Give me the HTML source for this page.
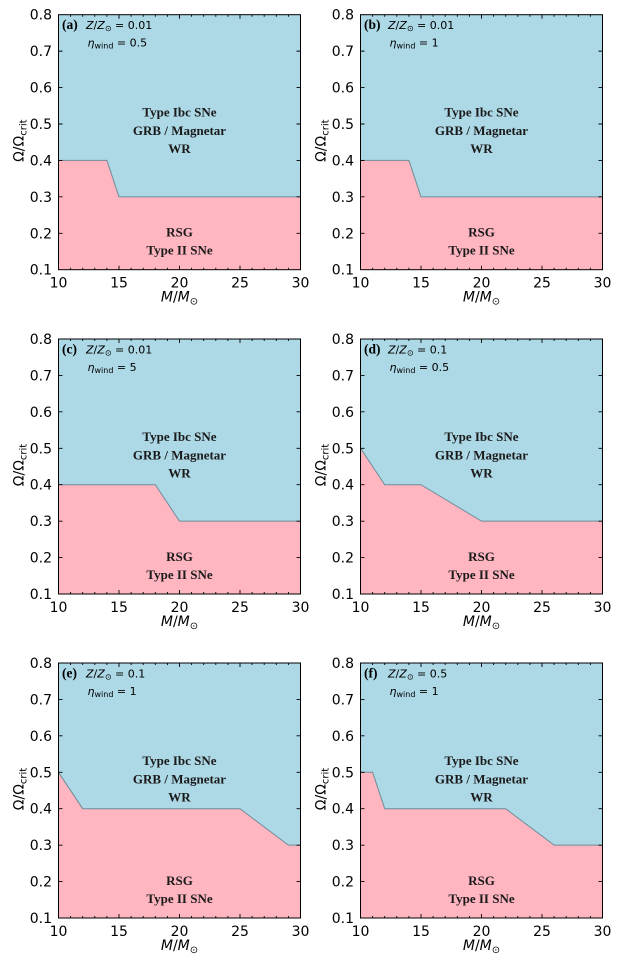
<!DOCTYPE html>
<html>
<head>
<meta charset="utf-8">
<style>
html,body{margin:0;padding:0;background:#fff;}
svg{display:block;}
.tk{font-family:"DejaVu Sans","Liberation Sans",sans-serif;font-size:14px;fill:#000;}
.rg{font-family:"Liberation Serif",serif;font-weight:bold;font-size:13px;fill:#1a1a1a;text-anchor:middle;}
.an{font-family:"DejaVu Sans","Liberation Sans",sans-serif;font-size:11px;fill:#000;}
.lb{font-family:"Liberation Serif",serif;font-weight:bold;font-size:13.5px;fill:#000;}
.bd{fill:none;stroke:#6e8e99;stroke-width:1;}
.fr{fill:none;stroke:#000;stroke-width:1;}
.ti{fill:none;stroke:#000;stroke-width:0.9;}
</style>
</head>
<body>
<svg width="639" height="964" viewBox="0 0 639 964" xmlns="http://www.w3.org/2000/svg">

<!-- Panel (a) -->
<g transform="translate(58.5,14.7)">
<rect x="0" y="0" width="242" height="255" fill="#ADD8E6"/>
<polygon points="0,145.71 48.4,145.71 60.5,182.14 242,182.14 242,255 0,255" fill="#FFB6C1"/>
<polyline class="bd" points="0,145.71 48.4,145.71 60.5,182.14 242,182.14"/>
<path class="ti" d="M60.5 255v-4M121 255v-4M181.5 255v-4M60.5 0v4M121 0v4M181.5 0v4M12.1 255v-2M24.2 255v-2M36.3 255v-2M48.4 255v-2M72.6 255v-2M84.7 255v-2M96.8 255v-2M108.9 255v-2M133.1 255v-2M145.2 255v-2M157.3 255v-2M169.4 255v-2M193.6 255v-2M205.7 255v-2M217.8 255v-2M229.9 255v-2M12.1 0v2M24.2 0v2M36.3 0v2M48.4 0v2M72.6 0v2M84.7 0v2M96.8 0v2M108.9 0v2M133.1 0v2M145.2 0v2M157.3 0v2M169.4 0v2M193.6 0v2M205.7 0v2M217.8 0v2M229.9 0v2M0 218.57h4M0 182.14h4M0 145.71h4M0 109.29h4M0 72.86h4M0 36.43h4M242 218.57h-4M242 182.14h-4M242 145.71h-4M242 109.29h-4M242 72.86h-4M242 36.43h-4"/>
<rect class="fr" x="0" y="0" width="242" height="255"/>
<text class="tk" text-anchor="end" x="-6.5" y="260">0.1</text>
<text class="tk" text-anchor="end" x="-6.5" y="223.57">0.2</text>
<text class="tk" text-anchor="end" x="-6.5" y="187.14">0.3</text>
<text class="tk" text-anchor="end" x="-6.5" y="150.71">0.4</text>
<text class="tk" text-anchor="end" x="-6.5" y="114.29">0.5</text>
<text class="tk" text-anchor="end" x="-6.5" y="77.86">0.6</text>
<text class="tk" text-anchor="end" x="-6.5" y="41.43">0.7</text>
<text class="tk" text-anchor="end" x="-6.5" y="5">0.8</text>
<text class="tk" text-anchor="middle" x="0" y="273">10</text>
<text class="tk" text-anchor="middle" x="60.5" y="273">15</text>
<text class="tk" text-anchor="middle" x="121" y="273">20</text>
<text class="tk" text-anchor="middle" x="181.5" y="273">25</text>
<text class="tk" text-anchor="middle" x="242" y="273">30</text>
<text class="tk" text-anchor="middle" x="121" y="287"><tspan font-style="italic">M</tspan>/<tspan font-style="italic">M</tspan><tspan font-size="10" dy="3">⊙</tspan></text>
<text class="tk" text-anchor="middle" transform="translate(-35,126) rotate(-90)">Ω/Ω<tspan font-size="10" dy="3">crit</tspan></text>
<text class="lb" x="3.5" y="14.5">(a)</text>
<text class="an" x="27.5" y="14.5"><tspan font-style="italic">Z</tspan>/<tspan font-style="italic">Z</tspan><tspan font-size="8" dy="2">⊙</tspan><tspan dy="-2"> = 0.01</tspan></text>
<text class="an" x="29" y="31.8"><tspan font-style="italic">η</tspan><tspan font-size="8" dy="2">wind</tspan><tspan dy="-2"> = 0.5</tspan></text>
<text class="rg" x="121" y="102">Type Ibc SNe</text>
<text class="rg" x="121" y="120.3">GRB / Magnetar</text>
<text class="rg" x="121" y="138.3">WR</text>
<text class="rg" x="121" y="222">RSG</text>
<text class="rg" x="121" y="240">Type II SNe</text>
</g>

<!-- Panel (b) -->
<g transform="translate(360.5,14.7)">
<rect x="0" y="0" width="242" height="255" fill="#ADD8E6"/>
<polygon points="0,145.71 48.4,145.71 60.5,182.14 242,182.14 242,255 0,255" fill="#FFB6C1"/>
<polyline class="bd" points="0,145.71 48.4,145.71 60.5,182.14 242,182.14"/>
<path class="ti" d="M60.5 255v-4M121 255v-4M181.5 255v-4M60.5 0v4M121 0v4M181.5 0v4M12.1 255v-2M24.2 255v-2M36.3 255v-2M48.4 255v-2M72.6 255v-2M84.7 255v-2M96.8 255v-2M108.9 255v-2M133.1 255v-2M145.2 255v-2M157.3 255v-2M169.4 255v-2M193.6 255v-2M205.7 255v-2M217.8 255v-2M229.9 255v-2M12.1 0v2M24.2 0v2M36.3 0v2M48.4 0v2M72.6 0v2M84.7 0v2M96.8 0v2M108.9 0v2M133.1 0v2M145.2 0v2M157.3 0v2M169.4 0v2M193.6 0v2M205.7 0v2M217.8 0v2M229.9 0v2M0 218.57h4M0 182.14h4M0 145.71h4M0 109.29h4M0 72.86h4M0 36.43h4M242 218.57h-4M242 182.14h-4M242 145.71h-4M242 109.29h-4M242 72.86h-4M242 36.43h-4"/>
<rect class="fr" x="0" y="0" width="242" height="255"/>
<text class="tk" text-anchor="end" x="-6.5" y="260">0.1</text>
<text class="tk" text-anchor="end" x="-6.5" y="223.57">0.2</text>
<text class="tk" text-anchor="end" x="-6.5" y="187.14">0.3</text>
<text class="tk" text-anchor="end" x="-6.5" y="150.71">0.4</text>
<text class="tk" text-anchor="end" x="-6.5" y="114.29">0.5</text>
<text class="tk" text-anchor="end" x="-6.5" y="77.86">0.6</text>
<text class="tk" text-anchor="end" x="-6.5" y="41.43">0.7</text>
<text class="tk" text-anchor="end" x="-6.5" y="5">0.8</text>
<text class="tk" text-anchor="middle" x="0" y="273">10</text>
<text class="tk" text-anchor="middle" x="60.5" y="273">15</text>
<text class="tk" text-anchor="middle" x="121" y="273">20</text>
<text class="tk" text-anchor="middle" x="181.5" y="273">25</text>
<text class="tk" text-anchor="middle" x="242" y="273">30</text>
<text class="tk" text-anchor="middle" x="121" y="287"><tspan font-style="italic">M</tspan>/<tspan font-style="italic">M</tspan><tspan font-size="10" dy="3">⊙</tspan></text>
<text class="tk" text-anchor="middle" transform="translate(-35,126) rotate(-90)">Ω/Ω<tspan font-size="10" dy="3">crit</tspan></text>
<text class="lb" x="3.5" y="14.5">(b)</text>
<text class="an" x="27.5" y="14.5"><tspan font-style="italic">Z</tspan>/<tspan font-style="italic">Z</tspan><tspan font-size="8" dy="2">⊙</tspan><tspan dy="-2"> = 0.01</tspan></text>
<text class="an" x="29" y="31.8"><tspan font-style="italic">η</tspan><tspan font-size="8" dy="2">wind</tspan><tspan dy="-2"> = 1</tspan></text>
<text class="rg" x="121" y="102">Type Ibc SNe</text>
<text class="rg" x="121" y="120.3">GRB / Magnetar</text>
<text class="rg" x="121" y="138.3">WR</text>
<text class="rg" x="121" y="222">RSG</text>
<text class="rg" x="121" y="240">Type II SNe</text>
</g>

<!-- Panel (c) -->
<g transform="translate(58.5,339)">
<rect x="0" y="0" width="242" height="255" fill="#ADD8E6"/>
<polygon points="0,145.71 96.8,145.71 121,182.14 242,182.14 242,255 0,255" fill="#FFB6C1"/>
<polyline class="bd" points="0,145.71 96.8,145.71 121,182.14 242,182.14"/>
<path class="ti" d="M60.5 255v-4M121 255v-4M181.5 255v-4M60.5 0v4M121 0v4M181.5 0v4M12.1 255v-2M24.2 255v-2M36.3 255v-2M48.4 255v-2M72.6 255v-2M84.7 255v-2M96.8 255v-2M108.9 255v-2M133.1 255v-2M145.2 255v-2M157.3 255v-2M169.4 255v-2M193.6 255v-2M205.7 255v-2M217.8 255v-2M229.9 255v-2M12.1 0v2M24.2 0v2M36.3 0v2M48.4 0v2M72.6 0v2M84.7 0v2M96.8 0v2M108.9 0v2M133.1 0v2M145.2 0v2M157.3 0v2M169.4 0v2M193.6 0v2M205.7 0v2M217.8 0v2M229.9 0v2M0 218.57h4M0 182.14h4M0 145.71h4M0 109.29h4M0 72.86h4M0 36.43h4M242 218.57h-4M242 182.14h-4M242 145.71h-4M242 109.29h-4M242 72.86h-4M242 36.43h-4"/>
<rect class="fr" x="0" y="0" width="242" height="255"/>
<text class="tk" text-anchor="end" x="-6.5" y="260">0.1</text>
<text class="tk" text-anchor="end" x="-6.5" y="223.57">0.2</text>
<text class="tk" text-anchor="end" x="-6.5" y="187.14">0.3</text>
<text class="tk" text-anchor="end" x="-6.5" y="150.71">0.4</text>
<text class="tk" text-anchor="end" x="-6.5" y="114.29">0.5</text>
<text class="tk" text-anchor="end" x="-6.5" y="77.86">0.6</text>
<text class="tk" text-anchor="end" x="-6.5" y="41.43">0.7</text>
<text class="tk" text-anchor="end" x="-6.5" y="5">0.8</text>
<text class="tk" text-anchor="middle" x="0" y="273">10</text>
<text class="tk" text-anchor="middle" x="60.5" y="273">15</text>
<text class="tk" text-anchor="middle" x="121" y="273">20</text>
<text class="tk" text-anchor="middle" x="181.5" y="273">25</text>
<text class="tk" text-anchor="middle" x="242" y="273">30</text>
<text class="tk" text-anchor="middle" x="121" y="287"><tspan font-style="italic">M</tspan>/<tspan font-style="italic">M</tspan><tspan font-size="10" dy="3">⊙</tspan></text>
<text class="tk" text-anchor="middle" transform="translate(-35,126) rotate(-90)">Ω/Ω<tspan font-size="10" dy="3">crit</tspan></text>
<text class="lb" x="3.5" y="14.5">(c)</text>
<text class="an" x="27.5" y="14.5"><tspan font-style="italic">Z</tspan>/<tspan font-style="italic">Z</tspan><tspan font-size="8" dy="2">⊙</tspan><tspan dy="-2"> = 0.01</tspan></text>
<text class="an" x="29" y="31.8"><tspan font-style="italic">η</tspan><tspan font-size="8" dy="2">wind</tspan><tspan dy="-2"> = 5</tspan></text>
<text class="rg" x="121" y="102">Type Ibc SNe</text>
<text class="rg" x="121" y="120.3">GRB / Magnetar</text>
<text class="rg" x="121" y="138.3">WR</text>
<text class="rg" x="121" y="222">RSG</text>
<text class="rg" x="121" y="240">Type II SNe</text>
</g>

<!-- Panel (d) -->
<g transform="translate(360.5,339)">
<rect x="0" y="0" width="242" height="255" fill="#ADD8E6"/>
<polygon points="0,109.29 24.2,145.71 60.5,145.71 121,182.14 242,182.14 242,255 0,255" fill="#FFB6C1"/>
<polyline class="bd" points="0,109.29 24.2,145.71 60.5,145.71 121,182.14 242,182.14"/>
<path class="ti" d="M60.5 255v-4M121 255v-4M181.5 255v-4M60.5 0v4M121 0v4M181.5 0v4M12.1 255v-2M24.2 255v-2M36.3 255v-2M48.4 255v-2M72.6 255v-2M84.7 255v-2M96.8 255v-2M108.9 255v-2M133.1 255v-2M145.2 255v-2M157.3 255v-2M169.4 255v-2M193.6 255v-2M205.7 255v-2M217.8 255v-2M229.9 255v-2M12.1 0v2M24.2 0v2M36.3 0v2M48.4 0v2M72.6 0v2M84.7 0v2M96.8 0v2M108.9 0v2M133.1 0v2M145.2 0v2M157.3 0v2M169.4 0v2M193.6 0v2M205.7 0v2M217.8 0v2M229.9 0v2M0 218.57h4M0 182.14h4M0 145.71h4M0 109.29h4M0 72.86h4M0 36.43h4M242 218.57h-4M242 182.14h-4M242 145.71h-4M242 109.29h-4M242 72.86h-4M242 36.43h-4"/>
<rect class="fr" x="0" y="0" width="242" height="255"/>
<text class="tk" text-anchor="end" x="-6.5" y="260">0.1</text>
<text class="tk" text-anchor="end" x="-6.5" y="223.57">0.2</text>
<text class="tk" text-anchor="end" x="-6.5" y="187.14">0.3</text>
<text class="tk" text-anchor="end" x="-6.5" y="150.71">0.4</text>
<text class="tk" text-anchor="end" x="-6.5" y="114.29">0.5</text>
<text class="tk" text-anchor="end" x="-6.5" y="77.86">0.6</text>
<text class="tk" text-anchor="end" x="-6.5" y="41.43">0.7</text>
<text class="tk" text-anchor="end" x="-6.5" y="5">0.8</text>
<text class="tk" text-anchor="middle" x="0" y="273">10</text>
<text class="tk" text-anchor="middle" x="60.5" y="273">15</text>
<text class="tk" text-anchor="middle" x="121" y="273">20</text>
<text class="tk" text-anchor="middle" x="181.5" y="273">25</text>
<text class="tk" text-anchor="middle" x="242" y="273">30</text>
<text class="tk" text-anchor="middle" x="121" y="287"><tspan font-style="italic">M</tspan>/<tspan font-style="italic">M</tspan><tspan font-size="10" dy="3">⊙</tspan></text>
<text class="tk" text-anchor="middle" transform="translate(-35,126) rotate(-90)">Ω/Ω<tspan font-size="10" dy="3">crit</tspan></text>
<text class="lb" x="3.5" y="14.5">(d)</text>
<text class="an" x="27.5" y="14.5"><tspan font-style="italic">Z</tspan>/<tspan font-style="italic">Z</tspan><tspan font-size="8" dy="2">⊙</tspan><tspan dy="-2"> = 0.1</tspan></text>
<text class="an" x="29" y="31.8"><tspan font-style="italic">η</tspan><tspan font-size="8" dy="2">wind</tspan><tspan dy="-2"> = 0.5</tspan></text>
<text class="rg" x="121" y="102">Type Ibc SNe</text>
<text class="rg" x="121" y="120.3">GRB / Magnetar</text>
<text class="rg" x="121" y="138.3">WR</text>
<text class="rg" x="121" y="222">RSG</text>
<text class="rg" x="121" y="240">Type II SNe</text>
</g>

<!-- Panel (e) -->
<g transform="translate(58.5,663)">
<rect x="0" y="0" width="242" height="255" fill="#ADD8E6"/>
<polygon points="0,109.29 24.2,145.71 181.5,145.71 229.9,182.14 242,182.14 242,255 0,255" fill="#FFB6C1"/>
<polyline class="bd" points="0,109.29 24.2,145.71 181.5,145.71 229.9,182.14 242,182.14"/>
<path class="ti" d="M60.5 255v-4M121 255v-4M181.5 255v-4M60.5 0v4M121 0v4M181.5 0v4M12.1 255v-2M24.2 255v-2M36.3 255v-2M48.4 255v-2M72.6 255v-2M84.7 255v-2M96.8 255v-2M108.9 255v-2M133.1 255v-2M145.2 255v-2M157.3 255v-2M169.4 255v-2M193.6 255v-2M205.7 255v-2M217.8 255v-2M229.9 255v-2M12.1 0v2M24.2 0v2M36.3 0v2M48.4 0v2M72.6 0v2M84.7 0v2M96.8 0v2M108.9 0v2M133.1 0v2M145.2 0v2M157.3 0v2M169.4 0v2M193.6 0v2M205.7 0v2M217.8 0v2M229.9 0v2M0 218.57h4M0 182.14h4M0 145.71h4M0 109.29h4M0 72.86h4M0 36.43h4M242 218.57h-4M242 182.14h-4M242 145.71h-4M242 109.29h-4M242 72.86h-4M242 36.43h-4"/>
<rect class="fr" x="0" y="0" width="242" height="255"/>
<text class="tk" text-anchor="end" x="-6.5" y="260">0.1</text>
<text class="tk" text-anchor="end" x="-6.5" y="223.57">0.2</text>
<text class="tk" text-anchor="end" x="-6.5" y="187.14">0.3</text>
<text class="tk" text-anchor="end" x="-6.5" y="150.71">0.4</text>
<text class="tk" text-anchor="end" x="-6.5" y="114.29">0.5</text>
<text class="tk" text-anchor="end" x="-6.5" y="77.86">0.6</text>
<text class="tk" text-anchor="end" x="-6.5" y="41.43">0.7</text>
<text class="tk" text-anchor="end" x="-6.5" y="5">0.8</text>
<text class="tk" text-anchor="middle" x="0" y="273">10</text>
<text class="tk" text-anchor="middle" x="60.5" y="273">15</text>
<text class="tk" text-anchor="middle" x="121" y="273">20</text>
<text class="tk" text-anchor="middle" x="181.5" y="273">25</text>
<text class="tk" text-anchor="middle" x="242" y="273">30</text>
<text class="tk" text-anchor="middle" x="121" y="287"><tspan font-style="italic">M</tspan>/<tspan font-style="italic">M</tspan><tspan font-size="10" dy="3">⊙</tspan></text>
<text class="tk" text-anchor="middle" transform="translate(-35,126) rotate(-90)">Ω/Ω<tspan font-size="10" dy="3">crit</tspan></text>
<text class="lb" x="3.5" y="14.5">(e)</text>
<text class="an" x="27.5" y="14.5"><tspan font-style="italic">Z</tspan>/<tspan font-style="italic">Z</tspan><tspan font-size="8" dy="2">⊙</tspan><tspan dy="-2"> = 0.1</tspan></text>
<text class="an" x="29" y="31.8"><tspan font-style="italic">η</tspan><tspan font-size="8" dy="2">wind</tspan><tspan dy="-2"> = 1</tspan></text>
<text class="rg" x="121" y="102">Type Ibc SNe</text>
<text class="rg" x="121" y="120.3">GRB / Magnetar</text>
<text class="rg" x="121" y="138.3">WR</text>
<text class="rg" x="121" y="222">RSG</text>
<text class="rg" x="121" y="240">Type II SNe</text>
</g>

<!-- Panel (f) -->
<g transform="translate(360.5,663)">
<rect x="0" y="0" width="242" height="255" fill="#ADD8E6"/>
<polygon points="0,109.29 12.1,109.29 24.2,145.71 145.2,145.71 193.6,182.14 242,182.14 242,255 0,255" fill="#FFB6C1"/>
<polyline class="bd" points="0,109.29 12.1,109.29 24.2,145.71 145.2,145.71 193.6,182.14 242,182.14"/>
<path class="ti" d="M60.5 255v-4M121 255v-4M181.5 255v-4M60.5 0v4M121 0v4M181.5 0v4M12.1 255v-2M24.2 255v-2M36.3 255v-2M48.4 255v-2M72.6 255v-2M84.7 255v-2M96.8 255v-2M108.9 255v-2M133.1 255v-2M145.2 255v-2M157.3 255v-2M169.4 255v-2M193.6 255v-2M205.7 255v-2M217.8 255v-2M229.9 255v-2M12.1 0v2M24.2 0v2M36.3 0v2M48.4 0v2M72.6 0v2M84.7 0v2M96.8 0v2M108.9 0v2M133.1 0v2M145.2 0v2M157.3 0v2M169.4 0v2M193.6 0v2M205.7 0v2M217.8 0v2M229.9 0v2M0 218.57h4M0 182.14h4M0 145.71h4M0 109.29h4M0 72.86h4M0 36.43h4M242 218.57h-4M242 182.14h-4M242 145.71h-4M242 109.29h-4M242 72.86h-4M242 36.43h-4"/>
<rect class="fr" x="0" y="0" width="242" height="255"/>
<text class="tk" text-anchor="end" x="-6.5" y="260">0.1</text>
<text class="tk" text-anchor="end" x="-6.5" y="223.57">0.2</text>
<text class="tk" text-anchor="end" x="-6.5" y="187.14">0.3</text>
<text class="tk" text-anchor="end" x="-6.5" y="150.71">0.4</text>
<text class="tk" text-anchor="end" x="-6.5" y="114.29">0.5</text>
<text class="tk" text-anchor="end" x="-6.5" y="77.86">0.6</text>
<text class="tk" text-anchor="end" x="-6.5" y="41.43">0.7</text>
<text class="tk" text-anchor="end" x="-6.5" y="5">0.8</text>
<text class="tk" text-anchor="middle" x="0" y="273">10</text>
<text class="tk" text-anchor="middle" x="60.5" y="273">15</text>
<text class="tk" text-anchor="middle" x="121" y="273">20</text>
<text class="tk" text-anchor="middle" x="181.5" y="273">25</text>
<text class="tk" text-anchor="middle" x="242" y="273">30</text>
<text class="tk" text-anchor="middle" x="121" y="287"><tspan font-style="italic">M</tspan>/<tspan font-style="italic">M</tspan><tspan font-size="10" dy="3">⊙</tspan></text>
<text class="tk" text-anchor="middle" transform="translate(-35,126) rotate(-90)">Ω/Ω<tspan font-size="10" dy="3">crit</tspan></text>
<text class="lb" x="3.5" y="14.5">(f)</text>
<text class="an" x="27.5" y="14.5"><tspan font-style="italic">Z</tspan>/<tspan font-style="italic">Z</tspan><tspan font-size="8" dy="2">⊙</tspan><tspan dy="-2"> = 0.5</tspan></text>
<text class="an" x="29" y="31.8"><tspan font-style="italic">η</tspan><tspan font-size="8" dy="2">wind</tspan><tspan dy="-2"> = 1</tspan></text>
<text class="rg" x="121" y="102">Type Ibc SNe</text>
<text class="rg" x="121" y="120.3">GRB / Magnetar</text>
<text class="rg" x="121" y="138.3">WR</text>
<text class="rg" x="121" y="222">RSG</text>
<text class="rg" x="121" y="240">Type II SNe</text>
</g>

</svg>
</body>
</html>
